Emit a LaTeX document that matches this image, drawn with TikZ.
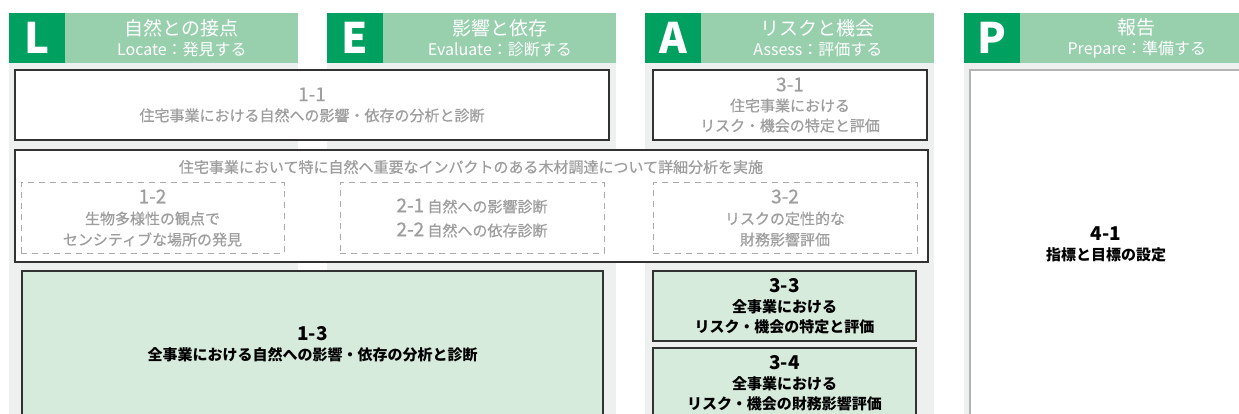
\documentclass[tikz,border=0pt]{standalone}
\usepackage{fontspec}
\setmainfont{Noto Sans CJK JP}
\newfontfamily\medfont{Noto Sans CJK JP}[FakeBold=0.6]
\usetikzlibrary{positioning}

\definecolor{hdrdark}{RGB}{0,161,96}
\definecolor{hdrlight}{RGB}{152,208,174}
\definecolor{colgray}{RGB}{238,239,239}
\definecolor{boxgreen}{RGB}{215,235,221}
\definecolor{graytext}{RGB}{158,158,158}
\definecolor{dashgray}{RGB}{170,170,170}
\definecolor{boxline}{RGB}{50,50,50}
\definecolor{paneline}{RGB}{180,180,180}

\newcommand{\bignum}{\fontsize{19}{20}\selectfont}
\newcommand{\subline}{\fontsize{16}{20}\selectfont}

\begin{document}
\begin{tikzpicture}[x=1pt, y=-1pt,
    hdrkey/.style={fill=hdrdark, text=white, minimum width=56pt, minimum height=50pt,
        inner sep=0pt, font=\fontsize{42}{42}\selectfont\bfseries},
    hdrtitle/.style={fill=hdrlight, text=white, minimum width=233pt, minimum height=50pt,
        inner sep=0pt, align=center, font=\fontsize{19}{20}\selectfont},
    oldbox/.style={draw=boxline, line width=1.3pt, fill=white, text=graytext,
        align=center, inner sep=0pt, font=\medfont\fontsize{15}{20}\selectfont},
    newbox/.style={draw=boxline, line width=1.3pt, fill=boxgreen, text=black,
        align=center, inner sep=0pt, font=\fontsize{15}{20}\selectfont\bfseries},
    dashbox/.style={draw=dashgray, line width=1pt, dash pattern=on 6pt off 5pt,
        text=graytext, align=center, inner sep=0pt, font=\medfont\fontsize{15}{21}\selectfont},
    graylbl/.style={text=graytext, inner sep=0pt, font=\medfont\fontsize{15}{20}\selectfont}]
    \useasboundingbox (0,0) rectangle (1239,414);
    \clip (0,0) rectangle (1239,414);

    % column backgrounds
    \fill[colgray] (9,63) rectangle (298,420);
    \fill[colgray] (327,63) rectangle (616,420);
    \fill[colgray] (645,63) rectangle (934,420);
    \fill[colgray] (964,63) rectangle (1253,420);

    % headers
    \node[hdrkey] (kl) at (37,38) {L};
    \node[hdrtitle, right=0pt of kl] (tl) {自然との接点\\{\subline Locate：発見する}};
    \node[hdrkey] (ke) at (355,38) {E};
    \node[hdrtitle, right=0pt of ke] (te) {影響と依存\\{\subline Evaluate：診断する}};
    \node[hdrkey] (ka) at (673,38) {A};
    \node[hdrtitle, right=0pt of ka] (ta) {リスクと機会\\{\subline Assess：評価する}};
    \node[hdrkey] (kp) at (992,38) {P};
    \node[hdrtitle, right=0pt of kp] (tp) {報告\\{\subline Prepare：準備する}};

    \node[oldbox, minimum width=594pt, minimum height=70pt] (b11) at (312,105)
        {{\bignum 1-1}\\住宅事業における自然への影響・依存の分析と診断};
    \node[oldbox, minimum width=274pt, minimum height=70pt] (b31) at (790,105)
        {{\bignum 3-1}\\住宅事業における\\リスク・機会の特定と評価};

    \node[draw=boxline, line width=1.6pt, fill=white, inner sep=0pt,
        minimum width=913pt, minimum height=112pt] (cont) at (471.5,206) {};
    \node[graylbl] (ttl) at (471,167)
        {住宅事業において特に自然へ重要なインパクトのある木材調達について詳細分析を実施};
    \node[dashbox, minimum width=263pt, minimum height=70pt] (d12) at (152.5,218)
        {{\bignum 1-2}\\生物多様性の観点で\\センシティブな場所の発見};
    \node[dashbox, minimum width=264pt, minimum height=70pt] (d21) at (472,218)
        {{\bignum 2-1} 自然への影響診断\\[3pt]{\bignum 2-2} 自然への依存診断};
    \node[dashbox, minimum width=264pt, minimum height=70pt] (d32) at (785,218)
        {{\bignum 3-2}\\リスクの定性的な\\財務影響評価};

    \node[newbox, minimum width=581pt, minimum height=146pt] (b13) at (312.5,344)
        {{\bignum 1-3}\\全事業における自然への影響・依存の分析と診断};
    \node[newbox, minimum width=263pt, minimum height=70pt] (b33) at (784.5,306)
        {{\bignum 3-3}\\全事業における\\リスク・機会の特定と評価};
    \node[newbox, minimum width=263pt, minimum height=70pt] (b34) at (784.5,383)
        {{\bignum 3-4}\\全事業における\\リスク・機会の財務影響評価};

    \node[draw=paneline, line width=2pt, fill=white, text=black, align=center, inner sep=0pt,
        font=\fontsize{15}{20}\selectfont\bfseries,
        minimum width=272pt, minimum height=348pt] (b41) at (1106,244)
        {{\bignum 4-1}\\指標と目標の設定};
\end{tikzpicture}
\end{document}
